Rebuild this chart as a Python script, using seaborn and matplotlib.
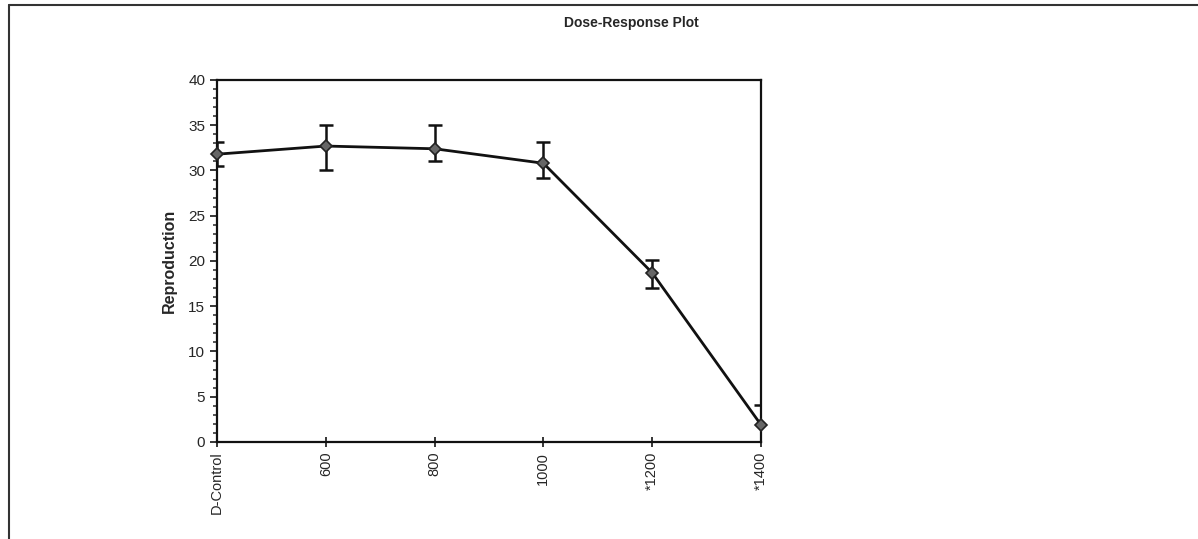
import numpy as np
import pandas as pd
import seaborn as sns
import matplotlib.pyplot as plt
from matplotlib.lines import Line2D
from matplotlib.ticker import MultipleLocator

doses = ["D-Control", "600", "800", "1000", "*1200", "*1400"]
reproduction = [31.8, 32.7, 32.4, 30.8, 18.7, 1.9]
err_low = [30.5, 30.0, 31.0, 29.2, 17.0, 0.0]
err_high = [33.2, 35.0, 35.0, 33.1, 20.1, 4.1]

sns.set_theme(style="white")
plt.rcParams['font.family'] = ['Liberation Sans', 'DejaVu Sans']

df = pd.DataFrame({"pos": np.arange(len(doses)), "dose": doses, "rep": reproduction})

fig = plt.figure(figsize=(11.98, 5.39), dpi=100)
ax = fig.add_axes([0.1811, 0.18, 0.4541, 0.6716])

# error bars first, line on top
yerr = [np.array(reproduction) - np.array(err_low), np.array(err_high) - np.array(reproduction)]
ax.errorbar(df["pos"], df["rep"], yerr=yerr, fmt="none", ecolor="#111111",
            elinewidth=1.8, capsize=5, capthick=1.8, zorder=2)
sns.lineplot(data=df, x="pos", y="rep", ax=ax, color="#111111", linewidth=2.0,
             marker="D", markersize=6, markerfacecolor="#666666",
             markeredgecolor="#222222", markeredgewidth=1.2, zorder=3, clip_on=False)

ax.set_xlim(0, len(doses) - 1)
ax.set_ylim(0, 40)
ax.set_xticks(df["pos"])
ax.set_xticklabels(doses, rotation=90, fontsize=10.5)
ax.yaxis.set_major_locator(MultipleLocator(5))
ax.yaxis.set_minor_locator(MultipleLocator(1))
ax.tick_params(axis="y", which="major", direction="out", length=5, width=1.3, labelsize=11, left=True)
ax.tick_params(axis="y", which="minor", direction="out", length=3, width=1.1, left=True)
ax.tick_params(axis="x", which="major", direction="inout", length=7, width=1.3, bottom=True)
ax.set_xlabel("")
ax.set_ylabel("Reproduction", fontsize=11.5, fontweight="bold", labelpad=8)
for s in ax.spines.values():
    s.set_color("#111111")
    s.set_linewidth(1.6)

fig.text(0.527, 0.957, "Dose-Response Plot", ha="center", va="center",
         fontsize=10, fontweight="bold")

# outer frame lines (top and left) like the source page
fig.add_artist(Line2D([9 / 1198, 1.0], [1 - 5 / 539, 1 - 5 / 539], color="#333333", linewidth=1.5))
fig.add_artist(Line2D([9 / 1198, 9 / 1198], [0, 1 - 5 / 539], color="#333333", linewidth=1.5))

fig.savefig("out.png", dpi=100)
